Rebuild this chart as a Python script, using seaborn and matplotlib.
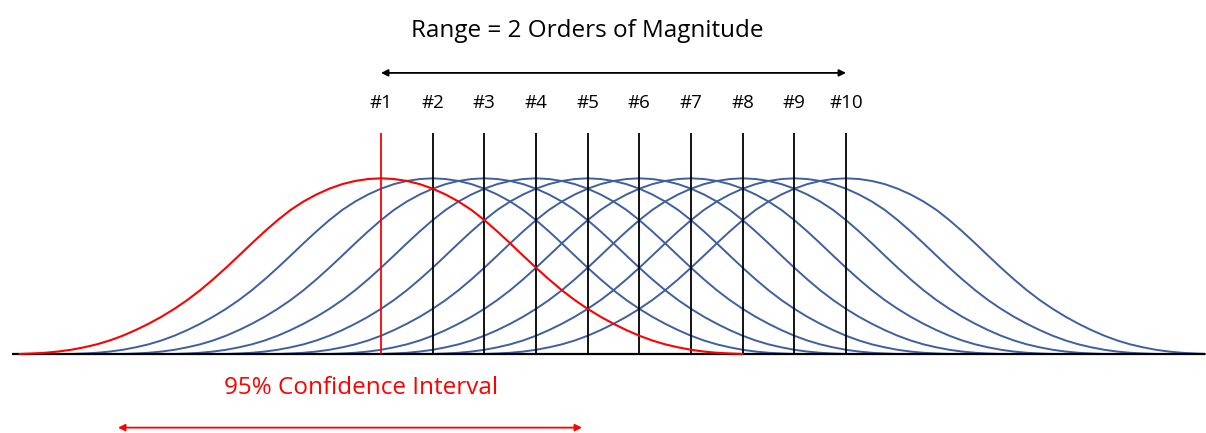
"""
Overlapping distributions, 10 steps across 2 orders of magnitude.
"""

import matplotlib
matplotlib.use("Agg")
import matplotlib.pyplot as plt
import seaborn as sns
import pandas as pd

# curve centres and their labels
centers = [1, 2, 3, 4, 5, 6, 7, 8, 9, 10]
center_labels = ["#1", "#2", "#3", "#4", "#5", "#6", "#7", "#8", "#9", "#10"]

# half profile of one curve (offset in steps, height)
profile_offsets = [0.0, 0.25, 0.5, 0.75, 1.0, 1.25, 1.5, 1.75, 2.0, 2.25, 2.5, 2.75,
                   3.0, 3.25, 3.5, 3.75, 4.0, 4.25, 4.5, 4.75, 5.0, 5.25, 5.5, 5.75,
                   6.0, 6.25, 6.5, 6.75, 7.0]
profile_values = [1.0, 0.996, 0.985, 0.967, 0.941, 0.908, 0.868, 0.820, 0.762, 0.698,
                  0.630, 0.560, 0.491, 0.425, 0.363, 0.307, 0.257, 0.212, 0.172, 0.136,
                  0.104, 0.077, 0.055, 0.038, 0.024, 0.014, 0.007, 0.003, 0.0]

title_text = "Range = 2 Orders of Magnitude"
ci_text = "95% Confidence Interval"

RED = "#ff0000"
BLUE = "#3f5f9e"

# full symmetric profile
offsets = [-o for o in profile_offsets[::-1]] + profile_offsets[1:]
values = profile_values[::-1] + profile_values[1:]

rows = []
for c, lab in zip(centers, center_labels):
    for o, v in zip(offsets, values):
        rows.append({"x": c + o, "y": v, "curve": lab})
df = pd.DataFrame(rows)

sns.set_theme(style="white")
plt.rcParams["font.family"] = ["Open Sans", "DejaVu Sans"]

fig = plt.figure(figsize=(12.06, 4.33), dpi=100)
ax = fig.add_axes([0, 0, 1, 1])
ax.set_xlim(-6.374, 16.967)
ax.set_ylim(-0.4496, 2.015)
ax.axis("off")

palette = {lab: (RED if i == 0 else BLUE) for i, lab in enumerate(center_labels)}
blue_df = df[df["curve"] != center_labels[0]]
red_df = df[df["curve"] == center_labels[0]]

sns.lineplot(data=blue_df, x="x", y="y", hue="curve", palette=palette, sort=False,
             estimator=None, legend=False, linewidth=1.4, ax=ax, zorder=2)

# baseline
ax.hlines(0, min(centers) + offsets[0] - 0.14, max(centers) + offsets[-1] - 0.05,
          color="black", linewidth=1.6, zorder=3)

# vertical markers
ax.vlines(centers[1:], 0, 1.258, color="black", linewidth=1.3, zorder=3)
ax.vlines(centers[0], 0, 1.258, color=RED, linewidth=1.3, zorder=5)

sns.lineplot(data=red_df, x="x", y="y", color=RED, sort=False, estimator=None,
             legend=False, linewidth=1.5, ax=ax, zorder=4)

for c, lab in zip(centers, center_labels):
    ax.text(c, 1.429, lab, ha="center", va="center", fontsize=13.5, color="black")

ax.annotate("", xy=(centers[-1], 1.6), xytext=(centers[0], 1.6),
            arrowprops=dict(arrowstyle="<|-|>", color="black", lw=1.3,
                            mutation_scale=10, shrinkA=0, shrinkB=0))
ax.text(5.0, 1.84, title_text, ha="center", va="center", fontsize=17.5, color="black")

ax.text(0.62, -0.194, ci_text, ha="center", va="center", fontsize=17.5, color=RED)
ax.annotate("", xy=(4.89, -0.419), xytext=(-4.09, -0.419),
            arrowprops=dict(arrowstyle="<|-|>", color=RED, lw=1.3,
                            mutation_scale=10, shrinkA=0, shrinkB=0))

fig.savefig("out.png", dpi=100, facecolor="white")
